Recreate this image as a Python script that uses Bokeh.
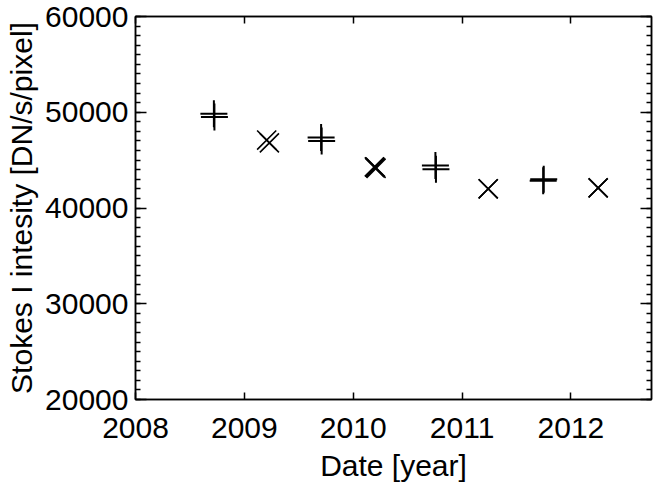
from bokeh.plotting import figure
from bokeh.models import LinearAxis, Range1d, FixedTicker, SingleIntervalTicker, CustomJSTickFormatter
from bokeh.embed import file_html
from bokeh.resources import INLINE

# Data
plus_dates_a = [2008.72, 2009.705, 2010.755, 2011.75]
plus_vals_a = [49850, 47350, 44450, 43000]
plus_dates_b = [2008.725, 2009.71, 2010.76, 2011.745]
plus_vals_b = [49500, 47000, 44050, 42850]

x_dates_a = [2009.205, 2010.195, 2011.24, 2012.25]
x_vals_a = [47100, 44300, 42000, 42100]
x_dates_b = [2009.23, 2010.21, 2011.24, 2012.25]
x_vals_b = [46800, 44150, 42000, 42100]
x_dates_c = [2010.2]
x_vals_c = [44250]

year_ticks = [2008, 2009, 2010, 2011, 2012]

FONT = "Liberation Sans"
FS = "30px"

p = figure(width=654, height=496, output_backend="svg", toolbar_location=None,
           x_range=Range1d(2008, 2012.74), y_range=Range1d(20000, 60000),
           min_border_left=135, min_border_right=3, min_border_top=16, min_border_bottom=97)
p.background_fill_color = "white"
p.border_fill_color = "white"
p.grid.visible = False
p.outline_line_color = "black"
p.outline_line_width = 1.5

xt = FixedTicker(ticks=year_ticks, minor_ticks=[])
yt = SingleIntervalTicker(interval=10000, num_minor_ticks=10)

xa = p.xaxis[0]
xa.ticker = xt
ya = p.yaxis[0]
ya.ticker = yt

for ax in (xa, ya):
    ax.axis_line_width = 1.5
    ax.major_tick_line_width = 1.5
    ax.minor_tick_line_width = 1.5
    ax.major_tick_out = 0
    ax.minor_tick_out = 0
    ax.major_label_text_font = FONT
    ax.major_label_text_font_size = FS
    ax.major_label_text_color = "black"
    ax.axis_label_text_font = FONT
    ax.axis_label_text_font_size = FS
    ax.axis_label_text_font_style = "normal"
    ax.axis_label_text_color = "black"

xa.major_tick_in = 7
xa.minor_tick_in = 0
xa.major_label_standoff = 18
xa.axis_label = "Date [year]"
xa.axis_label_standoff = 8
xa.major_label_overrides = {t: str(t) for t in year_ticks}

ya.major_tick_in = 11
ya.minor_tick_in = 5
ya.major_label_standoff = 7
ya.axis_label = "Stokes I intesity [DN/s/pixel]"
ya.axis_label_standoff = 4

blank = CustomJSTickFormatter(code="return ''")
top = LinearAxis(ticker=FixedTicker(ticks=year_ticks, minor_ticks=[]), formatter=blank)
right = LinearAxis(ticker=SingleIntervalTicker(interval=10000, num_minor_ticks=10), formatter=blank)
for ax, tin, mtin in ((top, 7, 0), (right, 11, 5)):
    ax.axis_line_width = 1.5
    ax.major_tick_line_width = 1.5
    ax.minor_tick_line_width = 1.5
    ax.major_tick_out = 0
    ax.minor_tick_out = 0
    ax.major_tick_in = tin
    ax.minor_tick_in = mtin
    ax.major_label_standoff = 0
p.add_layout(top, "above")
p.add_layout(right, "right")

p.scatter(plus_dates_a, plus_vals_a, marker="cross", size=27, line_color="black", line_width=2)
p.scatter(plus_dates_b, plus_vals_b, marker="cross", size=27, line_color="black", line_width=2)
p.scatter(x_dates_a, x_vals_a, marker="x", size=27, line_color="black", line_width=1.6)
p.scatter(x_dates_b, x_vals_b, marker="x", size=27, line_color="black", line_width=1.6)
p.scatter(x_dates_c, x_vals_c, marker="x", size=27, line_color="black", line_width=2.5)

open("out.html", "w").write(file_html(p, INLINE))
